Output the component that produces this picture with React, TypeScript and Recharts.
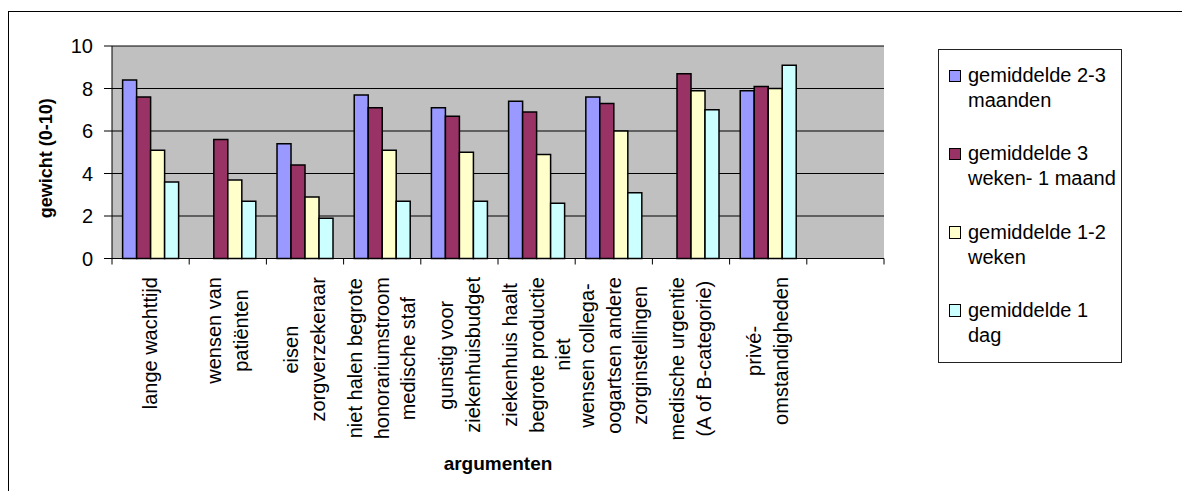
import { BarChart, Bar, XAxis, YAxis, CartesianGrid, Legend } from "recharts";

const categories = [
  "lange wachttijd",
  "wensen van\npatiënten",
  "eisen\nzorgverzekeraar",
  "niet halen begrote\nhonorariumstroom\nmedische staf",
  "gunstig voor\nziekenhuisbudget",
  "ziekenhuis haalt\nbegrote productie\nniet",
  "wensen collega-\noogartsen andere\nzorginstellingen",
  "medische urgentie\n(A of B-categorie)",
  "privé-\nomstandigheden",
  "",
];

const gem23Maanden = [8.4, null, 5.4, 7.7, 7.1, 7.4, 7.6, null, 7.9, null];
const gem3Weken1Maand = [7.6, 5.6, 4.4, 7.1, 6.7, 6.9, 7.3, 8.7, 8.1, null];
const gem12Weken = [5.1, 3.7, 2.9, 5.1, 5.0, 4.9, 6.0, 7.9, 8.0, null];
const gem1Dag = [3.6, 2.7, 1.9, 2.7, 2.7, 2.6, 3.1, 7.0, 9.1, null];

const seriesNames = [
  "gemiddelde 2-3 maanden",
  "gemiddelde 3 weken- 1 maand",
  "gemiddelde 1-2 weken",
  "gemiddelde 1 dag",
];
const seriesColors = ["#9999FF", "#993366", "#FFFFCC", "#CCFFFF"];
const yTicks = [0, 2, 4, 6, 8, 10];

const data = categories.map((name, i) => ({
  name,
  m23: gem23Maanden[i],
  w3m1: gem3Weken1Maand[i],
  w12: gem12Weken[i],
  d1: gem1Dag[i],
}));

const W = 1174;
const H = 483;
const margin = { top: 38, right: 298, bottom: 0, left: 0 };
const Y_W = 104;
const X_H = 232.5;
const band = (W - margin.left - margin.right - Y_W) / categories.length;
const FONT = '"Liberation Sans", Arial, sans-serif';

function CategoryTick(props: any) {
  const { x, y, payload, index } = props;
  const axisY = y - 18;
  const left = x - band / 2;
  return (
    <g>
      <line x1={left} x2={left} y1={axisY} y2={axisY + 6} stroke="#000" />
      {index === categories.length - 1 && (
        <line x1={left + band} x2={left + band} y1={axisY} y2={axisY + 6} stroke="#000" />
      )}
      <foreignObject x={x - 70} y={y} width={140} height={200}>
        <div
          style={{
            display: "flex",
            justifyContent: "center",
            alignItems: "flex-start",
            width: "100%",
            height: "100%",
          }}
        >
          <div
            style={{
              writingMode: "vertical-rl",
              transform: "rotate(180deg)",
              textAlign: "center",
              fontSize: 20,
              lineHeight: "26.7px",
              whiteSpace: "pre",
              color: "#000",
              fontFamily: FONT,
            }}
          >
            {payload.value}
          </div>
        </div>
      </foreignObject>
    </g>
  );
}

function YTitle(props: any) {
  const { x, y, height } = props.viewBox;
  const cx = x + 37.5;
  const cy = y + height / 2 + 6;
  return (
    <text
      x={cx}
      y={cy}
      transform={`rotate(-90 ${cx} ${cy})`}
      textAnchor="middle"
      dominantBaseline="central"
      fontWeight="bold"
      fontSize={18}
      fill="#000"
    >
      gewicht (0-10)
    </text>
  );
}

function XTitle(props: any) {
  const { x, y, width } = props.viewBox;
  return (
    <text
      x={x + width / 2}
      y={y + 204.5}
      textAnchor="middle"
      dominantBaseline="central"
      fontWeight="bold"
      fontSize={19}
      fill="#000"
    >
      argumenten
    </text>
  );
}

function LegendBox(props: any) {
  const { payload = [] } = props;
  return (
    <div
      style={{
        boxSizing: "border-box",
        width: 184,
        height: 314,
        border: "1px solid #222",
        background: "#fff",
        paddingTop: 13,
        paddingLeft: 9.7,
        fontFamily: FONT,
      }}
    >
      {payload.map((p: any, i: number) => (
        <div key={i} style={{ display: "flex", alignItems: "flex-start", height: 78.3 }}>
          <span
            style={{
              boxSizing: "border-box",
              width: 12.7,
              height: 12.7,
              border: "1.5px solid #000",
              background: p.color,
              marginTop: 6.5,
              flexShrink: 0,
            }}
          />
          <span style={{ marginLeft: 6.6, fontSize: 20, lineHeight: "25px", width: 152, color: "#000" }}>
            {p.value}
          </span>
        </div>
      ))}
    </div>
  );
}

export default function App() {
  return (
    <div style={{ position: "relative", width: W, height: H, fontFamily: FONT }}>
      <div style={{ position: "absolute", left: 0, top: 3, width: W, height: 1, background: "#000" }} />
      <div style={{ position: "absolute", left: 0, top: 3, width: 1, height: H - 3, background: "#000" }} />
      <BarChart width={W} height={H} data={data} margin={margin} barGap={0} barCategoryGap="13.75%">
        <CartesianGrid vertical={false} stroke="#000" fill="#C0C0C0" fillOpacity={1} />
        <XAxis
          dataKey="name"
          height={X_H}
          interval={0}
          tickSize={6}
          tickMargin={12}
          tickLine={false}
          axisLine={{ stroke: "#000" }}
          tick={<CategoryTick />}
          label={XTitle}
        />
        <XAxis
          xAxisId="top"
          orientation="top"
          dataKey="name"
          height={0}
          tick={false}
          tickLine={false}
          axisLine={{ stroke: "#808080", strokeWidth: 2 }}
        />
        <YAxis
          domain={[0, 10]}
          ticks={yTicks}
          interval={0}
          width={Y_W}
          tickSize={8}
          tickMargin={11}
          axisLine={{ stroke: "#000" }}
          tickLine={{ stroke: "#000" }}
          tick={{ fill: "#000", fontSize: 20 }}
          label={YTitle}
        />
        <YAxis
          yAxisId="right"
          orientation="right"
          width={0}
          domain={[0, 10]}
          tick={false}
          tickLine={false}
          axisLine={{ stroke: "#808080", strokeWidth: 2 }}
        />
        <Legend
          layout="vertical"
          align="center"
          verticalAlign="middle"
          itemSorter={(item: any) => seriesNames.indexOf(item.value)}
          wrapperStyle={{ left: 930, top: 41, width: 184, height: 314 }}
          content={LegendBox}
        />
        <Bar dataKey="m23" name={seriesNames[0]} fill={seriesColors[0]} stroke="#000" strokeWidth={1.5} isAnimationActive={false} />
        <Bar dataKey="w3m1" name={seriesNames[1]} fill={seriesColors[1]} stroke="#000" strokeWidth={1.5} isAnimationActive={false} />
        <Bar dataKey="w12" name={seriesNames[2]} fill={seriesColors[2]} stroke="#000" strokeWidth={1.5} isAnimationActive={false} />
        <Bar dataKey="d1" name={seriesNames[3]} fill={seriesColors[3]} stroke="#000" strokeWidth={1.5} isAnimationActive={false} />
      </BarChart>
    </div>
  );
}
